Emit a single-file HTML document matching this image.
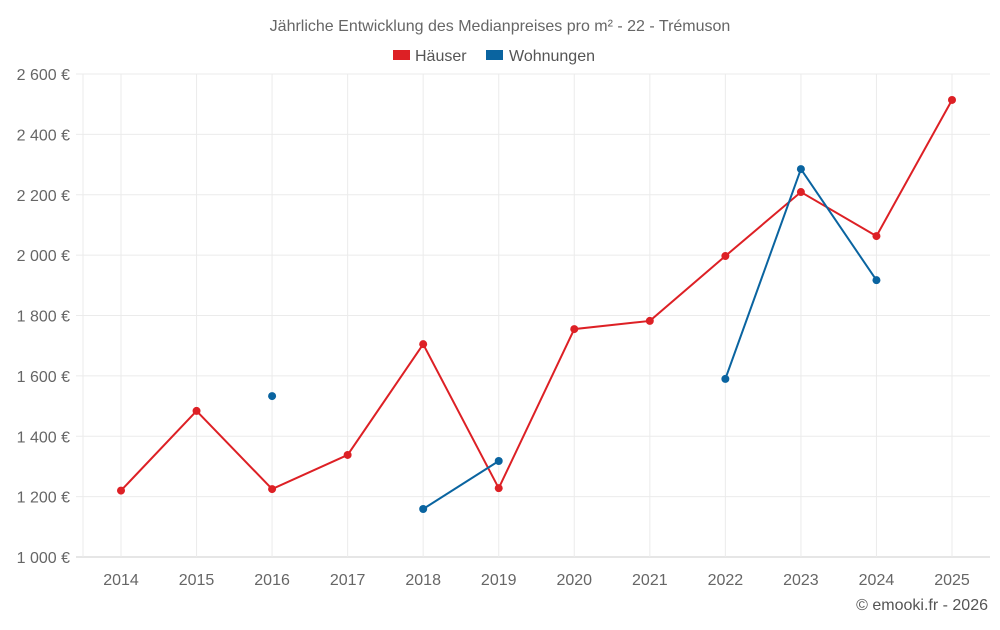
<!DOCTYPE html>
<html><head><meta charset="utf-8"><style>
body{margin:0;background:#fff;font-family:"Liberation Sans",sans-serif;}
svg text{font-family:"Liberation Sans",sans-serif;}
</style></head><body>
<svg id="chart" width="1000" height="625">
<text x="500" y="31" text-anchor="middle" font-size="16" fill="#666">Jährliche Entwicklung des Medianpreises pro m² - 22 - Trémuson</text>
<g>
<g><rect x="393" y="50" width="17" height="10" fill="#dd2025"/><text x="415" y="61" font-size="16" fill="#555">Häuser</text></g>
<g><rect x="486" y="50" width="17" height="10" fill="#0a64a0"/><text x="509" y="61" font-size="16" fill="#555">Wohnungen</text></g>
</g>
<g id="grid"></g><g id="axes"></g><g id="series"></g>
<text x="988" y="610" text-anchor="end" font-size="16" fill="#555">© emooki.fr - 2026</text>
</svg>
<script>
const years=[2014,2015,2016,2017,2018,2019,2020,2021,2022,2023,2024,2025];
const haeuser=[1220,1484,1225,1338,1705,1228,1755,1782,1997,2209,2063,2514];
const wohnungen=[null,null,1533,null,1159,1318,null,null,1590,2285,1917,null];
const yTicks=[1000,1200,1400,1600,1800,2000,2200,2400,2600];
const yLabels=["1 000 €","1 200 €","1 400 €","1 600 €","1 800 €","2 000 €","2 200 €","2 400 €","2 600 €"];
const L=83,R=990,T=74,B=557,ymin=1000,ymax=2600;
const x=i=>121+i*(952-121)/(years.length-1);
const y=v=>B-(v-ymin)/(ymax-ymin)*(B-T);
const NS="http://www.w3.org/2000/svg";
function mk(tag,attrs,parent){const e=document.createElementNS(NS,tag);for(const k in attrs)e.setAttribute(k,attrs[k]);parent.appendChild(e);return e;}
const grid=document.getElementById('grid'),axes=document.getElementById('axes'),ser=document.getElementById('series');
yTicks.forEach((t,i)=>{
 const l=mk('line',{x1:76,x2:R,y1:y(t),y2:y(t),stroke:i==0?'#ccc':'#ebebeb'},grid);
 
 
 const tx=mk('text',{x:70,y:y(t)+6,'text-anchor':'end','font-size':16,fill:'#666'},axes);
 tx.textContent=yLabels[i];
 
 
});
years.forEach((yr,i)=>{
 const l=mk('line',{x1:x(i),x2:x(i),y1:T,y2:B,stroke:'#ebebeb'},grid);
 
 
 const tx=mk('text',{x:x(i),y:585,'text-anchor':'middle','font-size':16,fill:'#666'},axes);
 tx.textContent=yr;
 
 
});
const al=mk('line',{x1:L,x2:L,y1:T,y2:B,stroke:'#ebebeb'},grid);


function draw(vals,color,name){
 let seg=[];
 const flush=()=>{if(seg.length>1){const p=mk('polyline',{points:seg.join(' '),fill:'none',stroke:color,'stroke-width':2},ser);
  
  }seg=[];};
 vals.forEach((v,i)=>{if(v==null){flush();return;}seg.push(x(i)+','+y(v));});
 flush();
 vals.forEach((v,i)=>{if(v==null)return;
  const c=mk('circle',{cx:x(i),cy:y(v),r:4,fill:color},ser);
  
  });
}
draw(haeuser,'#dd2025','haeuser');
draw(wohnungen,'#0a64a0','wohnungen');
</script>
</body></html>
